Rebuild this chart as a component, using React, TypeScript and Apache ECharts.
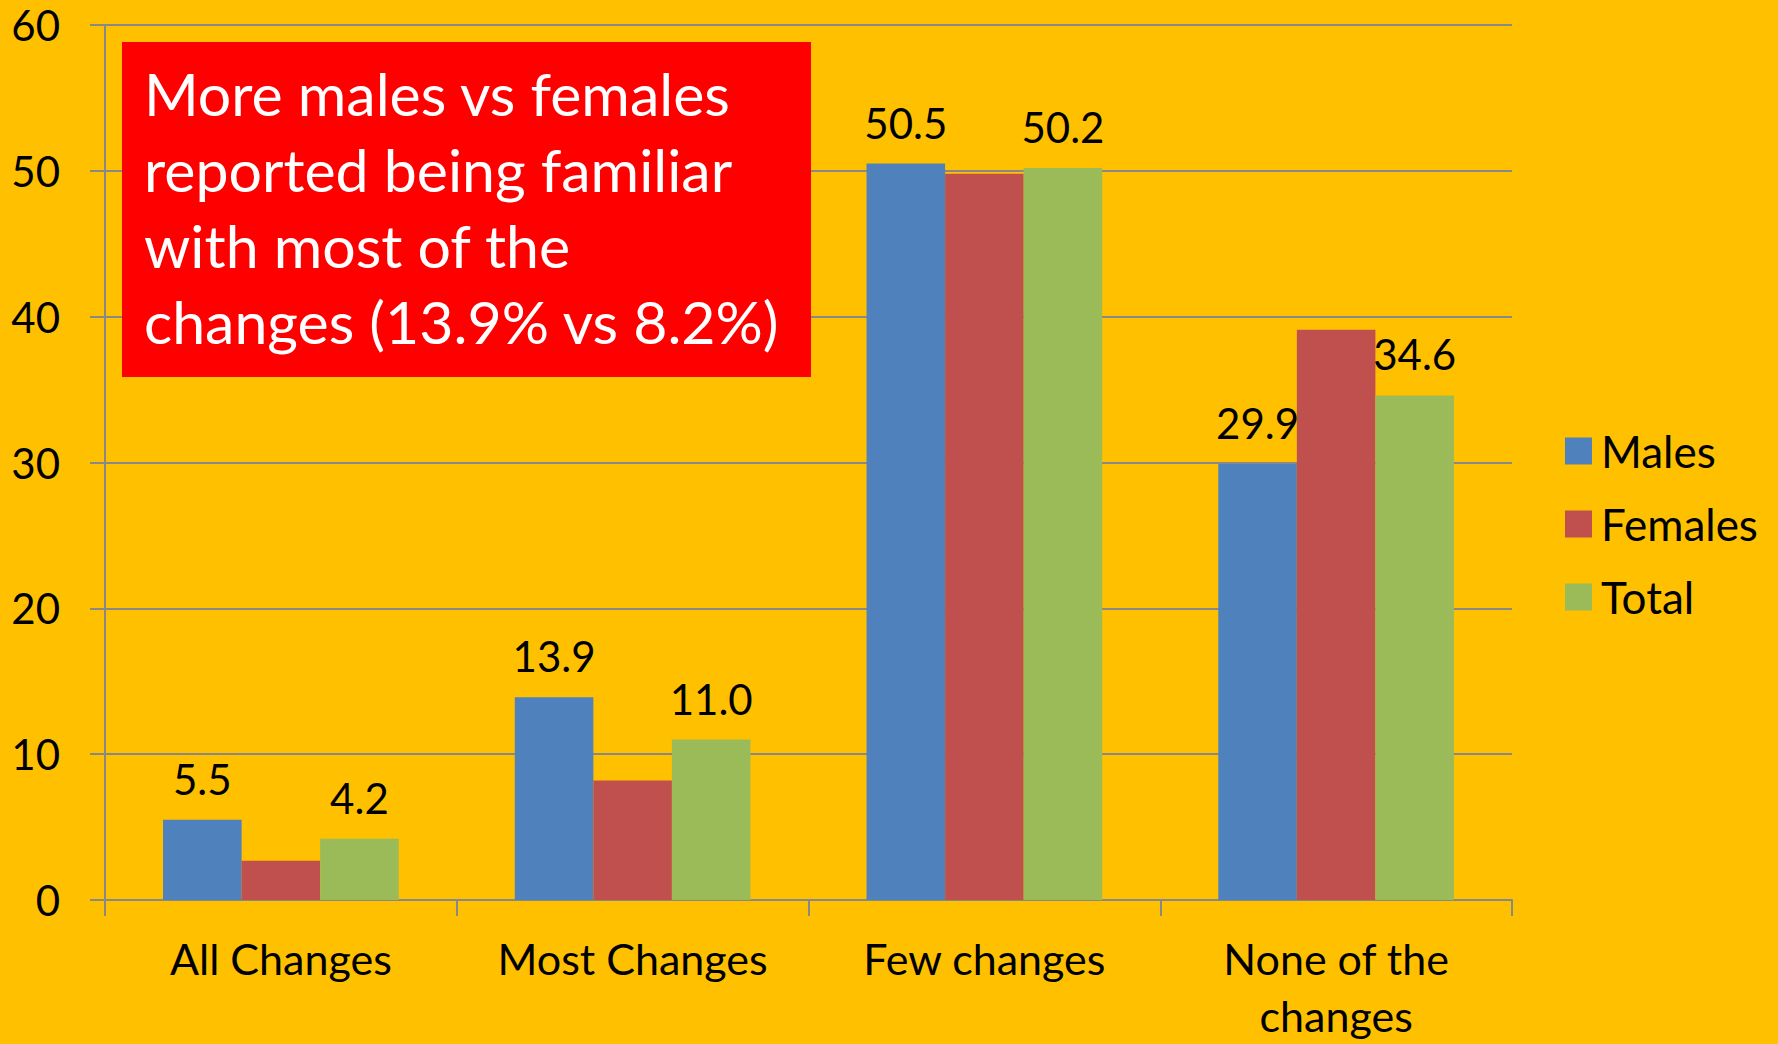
import React, { useEffect, useRef } from "react";
import * as echarts from "echarts";

const categories = ["All Changes", "Most Changes", "Few changes", "None of the\nchanges"];
const males = [5.5, 13.9, 50.5, 29.9];
const females = [2.7, 8.2, 49.8, 39.1];
const total = [4.2, 11.0, 50.2, 34.6];
const seriesNames = ["Males", "Females", "Total"];
const titleLines = [
  "More males vs females",
  "reported being familiar",
  "with most of the",
  "changes (13.9% vs 8.2%)",
];

const FONT = "Lato, 'Open Sans', sans-serif";

export default function App() {
  const ref = useRef<HTMLDivElement>(null);
  useEffect(() => {
    if (!ref.current) return;
    const chart = echarts.init(ref.current, null, { renderer: "svg" });
    const label = {
      show: true,
      position: "top",
      distance: 20,
      color: "#000",
      fontSize: 42,
      fontFamily: FONT,
      formatter: (p: any) => Number(p.value).toFixed(1),
    };
    chart.setOption({
      animation: false,
      backgroundColor: "#FFC000",
      textStyle: { fontFamily: FONT },
      grid: { left: 105, right: 266, top: 25, bottom: 144, containLabel: false },
      legend: {
        orient: "vertical",
        left: 1560,
        top: 424,
        itemWidth: 27,
        itemHeight: 27,
        itemGap: 29,
        icon: "rect",
        data: seriesNames,
        textStyle: { fontSize: 44, color: "#000", fontFamily: FONT, padding: [0, 0, 0, 4] },
      },
      xAxis: {
        type: "category",
        data: categories,
        axisLine: { show: true, lineStyle: { color: "#888888", width: 2 } },
        axisTick: { show: true, length: 16, lineStyle: { color: "#888888", width: 2 } },
        axisLabel: {
          color: "#000",
          fontSize: 43,
          fontFamily: FONT,
          margin: 30,
          lineHeight: 57,
          interval: 0,
        },
      },
      yAxis: {
        type: "value",
        min: 0,
        max: 60,
        interval: 10,
        axisLine: { show: true, lineStyle: { color: "#888888", width: 2 } },
        axisTick: { show: true, length: 15, lineStyle: { color: "#888888", width: 2 } },
        splitLine: { show: true, lineStyle: { color: "#888888", width: 2 } },
        axisLabel: { color: "#000", fontSize: 42, fontFamily: FONT, margin: 45 },
      },
      series: [
        { name: seriesNames[0], type: "bar", data: males, itemStyle: { color: "#4F81BD" }, barGap: "0%", barCategoryGap: "33%", label },
        { name: seriesNames[1], type: "bar", data: females, itemStyle: { color: "#C0504D" }, barGap: "0%", barCategoryGap: "33%" },
        { name: seriesNames[2], type: "bar", data: total, itemStyle: { color: "#9BBB59" }, barGap: "0%", barCategoryGap: "33%", label },
      ],
      graphic: [
        {
          type: "rect",
          shape: { x: 122, y: 42, width: 689, height: 335 },
          style: { fill: "#FF0000" },
          z: 100,
        },
        {
          type: "text",
          x: 144,
          y: 55,
          z: 101,
          style: {
            text: titleLines.join("\n"),
            fill: "#fff",
            fontSize: 59,
            lineHeight: 76,
            fontFamily: FONT,
            verticalAlign: "top",
          },
        },
      ],
    });
    return () => chart.dispose();
  }, []);
  return (
    <div
      ref={ref}
      style={{ position: "absolute", left: 0, top: 0, width: 1778, height: 1044 }}
    />
  );
}
